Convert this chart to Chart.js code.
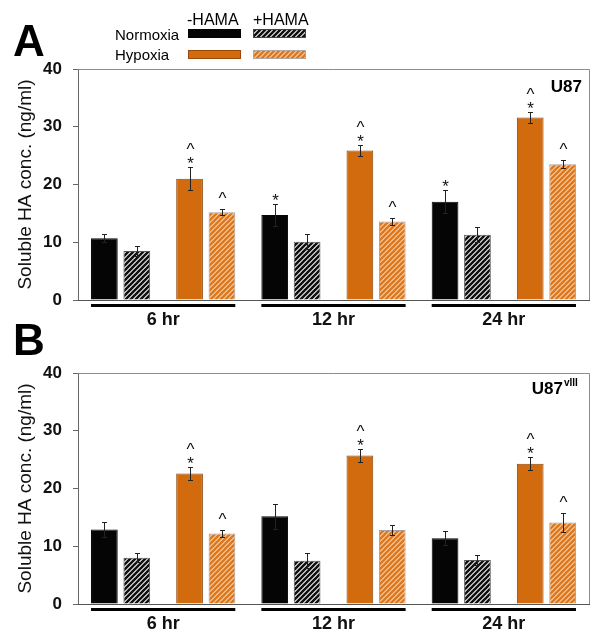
<!DOCTYPE html>
<html>
<head>
<meta charset="utf-8">
<script src="https://cdn.jsdelivr.net/npm/chart.js@4.4.1/dist/chart.umd.min.js"></script>
<style>
  html, body { margin: 0; padding: 0; background: #fff; }
  .wrap { position: relative; width: 604px; height: 644px; overflow: hidden; }
  canvas { display: block; position: absolute; left: 0; }
  #panelA { top: 0; }
  #panelB { top: 304px; }
</style>
</head>
<body>
<div class="wrap">
  <canvas id="panelA" width="604" height="340"></canvas>
  <canvas id="panelB" width="604" height="340"></canvas>
</div>
<script>
// time points and oxygen conditions
const timePoints = ['6 hr', '12 hr', '24 hr'];
const conditions = ['Normoxia', 'Hypoxia'];
const yTicks = [0, 10, 20, 30, 40];

// panel A, U87 -- order: 6hr N, 6hr H, 12hr N, 12hr H, 24hr N, 24hr H
const u87Minus = [10.7, 21.0, 14.7, 25.9, 17.0, 31.6];
const u87MinusErr = [0.7, 2.0, 1.9, 1.0, 2.0, 0.9];
const u87Plus = [8.5, 15.2, 10.1, 13.6, 11.3, 23.5];
const u87PlusErr = [0.9, 0.5, 1.3, 0.6, 1.3, 0.7];
const u87MinusMarks = ['', '*^', '*', '*^', '*', '*^'];
const u87PlusMarks = ['', '^', '', '^', '', '^'];

// panel B, U87vIII
const viiiMinus = [12.9, 22.6, 15.2, 25.7, 11.4, 24.3];
const viiiMinusErr = [1.3, 1.2, 2.2, 1.1, 1.2, 1.15];
const viiiPlus = [8.0, 12.2, 7.5, 12.8, 7.6, 14.1];
const viiiPlusErr = [0.8, 0.6, 1.3, 0.9, 0.9, 1.7];
const viiiMinusMarks = ['', '*^', '', '*^', '', '*^'];
const viiiPlusMarks = ['', '^', '', '', '', '^'];

const FONT = "'Liberation Sans', Arial, sans-serif";
const BLACK = '#050505';
const ORANGE = '#d26a0e';

function hatch(bg, fg, w) {
  const c = document.createElement('canvas');
  c.width = 5; c.height = 5;
  const g = c.getContext('2d');
  g.fillStyle = bg; g.fillRect(0, 0, 5, 5);
  g.strokeStyle = fg; g.lineWidth = w;
  g.beginPath();
  g.moveTo(-1, 6); g.lineTo(6, -1);
  g.moveTo(-1, 1); g.lineTo(1, -1);
  g.moveTo(4, 6); g.lineTo(6, 4);
  g.stroke();
  return g.createPattern(c, 'repeat');
}
const blackHatch = hatch('#ffffff', '#111111', 2.6);
const orangeHatch = hatch('#f5cda4', '#de761c', 2.3);

const labels = [];
timePoints.forEach(t => conditions.forEach(c => labels.push(t + ' ' + c)));

const errorBars = {
  id: 'errorBars',
  afterDatasetsDraw(chart) {
    const ctx = chart.ctx, y = chart.scales.y;
    ctx.save();
    chart.data.datasets.forEach((ds, di) => {
      const meta = chart.getDatasetMeta(di);
      meta.data.forEach((bar, i) => {
        const v = ds.data[i], e = ds.errors[i];
        const x = Math.round(bar.x) + 0.5;
        const top = Math.round(y.getPixelForValue(v + e)) + 0.5;
        const bot = Math.round(y.getPixelForValue(v - e)) + 0.5;
        ctx.strokeStyle = '#222';
        ctx.lineWidth = 1;
        ctx.beginPath();
        ctx.moveTo(x, top); ctx.lineTo(x, bot);
        ctx.moveTo(x - 2.5, top); ctx.lineTo(x + 2.5, top);
        ctx.moveTo(x - 2.5, bot); ctx.lineTo(x + 2.5, bot);
        ctx.stroke();
        const m = ds.marks[i];
        ctx.fillStyle = '#111';
        ctx.font = '17px ' + FONT;
        ctx.textAlign = 'center';
        ctx.textBaseline = 'alphabetic';
        if (m.includes('*')) ctx.fillText('*', x, top + 1);
        if (m.includes('^')) ctx.fillText('^', x, m.includes('*') ? top - 13 : top - 6);
      });
    });
    ctx.restore();
  }
};

const frame = {
  id: 'frame',
  beforeDatasetsDraw(chart) {
    const {ctx, chartArea: a} = chart;
    ctx.save();
    ctx.strokeStyle = '#8c8c8c';
    ctx.lineWidth = 1;
    ctx.beginPath();
    ctx.moveTo(a.left, a.top + 0.5); ctx.lineTo(a.right + 0.5, a.top + 0.5);
    ctx.lineTo(a.right + 0.5, a.bottom);
    ctx.stroke();
    ctx.restore();
  }
};

const groupLines = {
  id: 'groupLines',
  afterDraw(chart) {
    const {ctx, chartArea: a} = chart;
    const m0 = chart.getDatasetMeta(0), m1 = chart.getDatasetMeta(1);
    ctx.save();
    ctx.fillStyle = '#000';
    timePoints.forEach((t, g) => {
      const b0 = m0.data[2 * g], b1 = m1.data[2 * g + 1];
      const left = b0.x - b0.width / 2, right = b1.x + b1.width / 2;
      ctx.fillRect(left, a.bottom + 4, right - left, 3);
    });
    ctx.restore();
  }
};

const decorations = {
  id: 'decorations',
  afterDraw(chart, args, opts) {
    const ctx = chart.ctx;
    ctx.save();
    ctx.fillStyle = '#000';
    ctx.textAlign = 'left';
    ctx.textBaseline = 'alphabetic';
    ctx.font = 'bold 44px ' + FONT;
    ctx.fillText(opts.letter, 13, opts.letterBase);
    ctx.font = 'bold 17px ' + FONT;
    ctx.textAlign = 'right';
    ctx.fillText('U87', opts.cellRight, opts.cellBase);
    if (opts.sup) {
      ctx.textAlign = 'left';
      ctx.font = 'bold 10px ' + FONT;
      ctx.fillText(opts.sup, opts.cellRight + 1, opts.cellBase - 8);
    }
    if (opts.legend) {
      ctx.textAlign = 'left';
      ctx.font = '16px ' + FONT;
      ctx.fillText('-HAMA', 187, 25);
      ctx.fillText('+HAMA', 253, 25);
      ctx.font = '15px ' + FONT;
      ctx.fillText(conditions[0], 115, 40);
      ctx.fillText(conditions[1], 115, 60);
      const sw = [
        [188, 29, BLACK, BLACK], [253, 29, blackHatch, '#444'],
        [188, 50, ORANGE, '#9a4a08'], [253, 50, orangeHatch, '#b0a8a4']
      ];
      sw.forEach(([x, y, f, s]) => {
        ctx.fillStyle = f; ctx.fillRect(x, y, 53, 9);
        ctx.strokeStyle = s; ctx.lineWidth = 1; ctx.strokeRect(x + 0.5, y + 0.5, 52, 8);
      });
    }
    ctx.restore();
  }
};

function makePanel(id, minus, minusErr, plus, plusErr, minusMarks, plusMarks, deco) {
  const minusFill = labels.map((l, i) => i % 2 ? ORANGE : BLACK);
  const minusBorder = labels.map((l, i) => i % 2 ? '#8a4408' : BLACK);
  const plusFill = labels.map((l, i) => i % 2 ? orangeHatch : blackHatch);
  const plusBorder = labels.map((l, i) => i % 2 ? '#a8a09c' : '#555');
  new Chart(document.getElementById(id), {
    type: 'bar',
    data: {
      labels: labels,
      datasets: [
        { label: '-HAMA', data: minus, errors: minusErr, marks: minusMarks,
          backgroundColor: minusFill, borderColor: minusBorder, borderWidth: 1, xAxisID: 'x' },
        { label: '+HAMA', data: plus, errors: plusErr, marks: plusMarks,
          backgroundColor: plusFill, borderColor: plusBorder, borderWidth: 1, xAxisID: 'x' }
      ]
    },
    options: {
      responsive: false,
      animation: false,
      categoryPercentage: 0.761,
      barPercentage: 0.824,
      layout: { padding: { top: 69, right: 15, left: 0, bottom: 0 } },
      plugins: { legend: { display: false }, tooltip: { enabled: false }, decorations: deco },
      scales: {
        y: {
          min: 0, max: 40,
          afterBuildTicks: s => { s.ticks = yTicks.map(v => ({ value: v })); },
          afterFit: s => { s.width = 78; },
          grid: { drawOnChartArea: false, tickLength: 5, color: '#666' },
          border: { color: '#666' },
          ticks: { padding: 11, color: '#111', font: { family: FONT, size: 17, weight: 'bold' } },
          title: { display: true, text: 'Soluble HA conc. (ng/ml)', color: '#111',
                   padding: { top: 14, bottom: 0 }, font: { family: FONT, size: 19 } }
        },
        x: {
          afterFit: s => { s.height = 0; },
          grid: { display: false },
          border: { color: '#555' },
          ticks: { display: false }
        },
        x2: {
          type: 'category',
          labels: timePoints,
          position: 'bottom',
          afterFit: s => { s.height = 40; },
          grid: { display: false, drawTicks: false },
          border: { display: false },
          ticks: { padding: 9, color: '#111', font: { family: FONT, size: 18, weight: 'bold' } }
        }
      }
    },
    plugins: [frame, errorBars, groupLines, decorations]
  });
}

makePanel('panelA', u87Minus, u87MinusErr, u87Plus, u87PlusErr, u87MinusMarks, u87PlusMarks,
  { letter: 'A', letterBase: 56, cellRight: 582, cellBase: 92, legend: true });
makePanel('panelB', viiiMinus, viiiMinusErr, viiiPlus, viiiPlusErr, viiiMinusMarks, viiiPlusMarks,
  { letter: 'B', letterBase: 51, cellRight: 563, cellBase: 90, sup: 'vIII' });
</script>
</body>
</html>
